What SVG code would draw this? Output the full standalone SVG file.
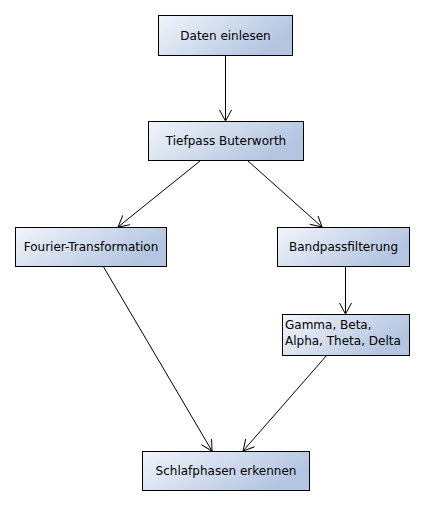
<svg xmlns="http://www.w3.org/2000/svg" width="427" height="506" viewBox="0 0 427 506">
<defs>
<linearGradient id="g" x1="0" y1="0" x2="1" y2="0.4">
<stop offset="0" stop-color="#f2f5fb"/>
<stop offset="1" stop-color="#b3c5e0"/>
</linearGradient>
<marker id="a" markerWidth="14" markerHeight="14" refX="11" refY="6" orient="auto" markerUnits="userSpaceOnUse">
<path d="M0,0 L11,6 L0,12" fill="none" stroke="#000" stroke-width="1"/>
</marker>
<style>
.n rect{fill:url(#g);stroke:#000;stroke-width:1}
.n text{font-family:"DejaVu Sans",sans-serif;font-size:12px;fill:#000}
.c line{stroke:#000;stroke-width:1;marker-end:url(#a)}
</style>
</defs>
<rect width="427" height="506" fill="#fff"/>
<g class="c">
<line x1="225.5" y1="55" x2="225.5" y2="121"/>
<line x1="200" y1="161" x2="118" y2="227"/>
<line x1="248" y1="161" x2="322" y2="227"/>
<line x1="345.5" y1="266" x2="345.5" y2="314"/>
<line x1="103" y1="266" x2="212" y2="451"/>
<line x1="327" y1="355" x2="243" y2="451"/>
</g>
<g id="n1" class="n"><rect x="158.5" y="15.5" width="134" height="40"/><text x="225.5" y="40" text-anchor="middle">Daten einlesen</text></g>
<g id="n2" class="n"><rect x="148.5" y="121.5" width="155" height="39"/><text x="226" y="145" text-anchor="middle">Tiefpass Buterworth</text></g>
<g id="n3" class="n"><rect x="15.5" y="227.5" width="151" height="39"/><text x="91" y="251" text-anchor="middle">Fourier-Transformation</text></g>
<g id="n4" class="n"><rect x="277.5" y="227.5" width="132" height="39"/><text x="343.5" y="251" text-anchor="middle">Bandpassfilterung</text></g>
<g id="n5" class="n"><rect x="282.5" y="314.5" width="127" height="41"/><text x="285" y="329">Gamma, Beta,</text><text x="285" y="345">Alpha, Theta, Delta</text></g>
<g id="n6" class="n"><rect x="142.5" y="451.5" width="167" height="39"/><text x="226" y="475" text-anchor="middle">Schlafphasen erkennen</text></g>
</svg>
